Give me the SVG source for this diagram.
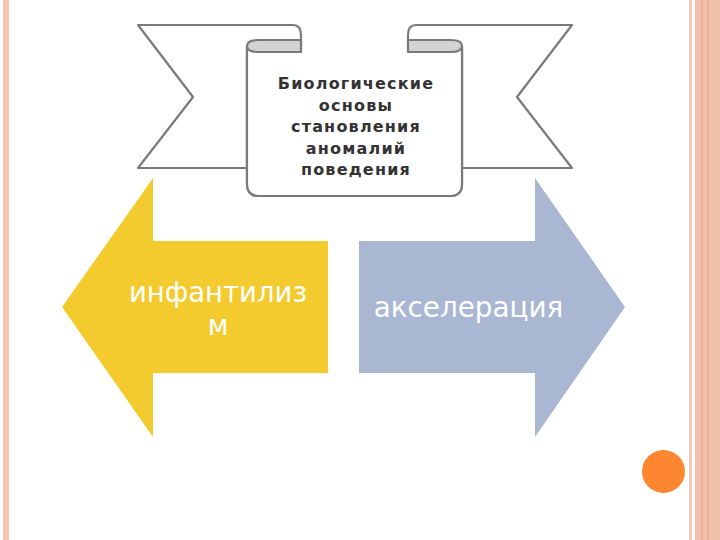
<svg xmlns="http://www.w3.org/2000/svg" width="720" height="540" viewBox="0 0 720 540">
<style>
.frame{fill:#F8C5B5}
.band{fill:#F0C0AA}
.bline{stroke:#E6A88E;stroke-width:1.2}
.rib{fill:#FFFFFF;stroke:#7A7A7A;stroke-width:2.2;stroke-linejoin:round}
.roll{fill:#D3D3D3;stroke:#7A7A7A;stroke-width:2.2;stroke-linejoin:round}
.btxt{font-family:"DejaVu Sans",sans-serif;font-weight:bold;font-size:16px;letter-spacing:1.2px;fill:#333333;text-anchor:middle}
.atxt{font-family:"DejaVu Sans",sans-serif;font-size:27.8px;fill:#FFFFFF;text-anchor:middle}
</style>
<rect width="720" height="540" fill="#FFFFFF"/>
<g id="decor">
<rect class="frame" x="3" y="0" width="6" height="540"/>
<rect x="689" y="0" width="3" height="540" fill="#F5C9B9"/>
<rect class="band" x="695" y="0" width="25" height="540"/>
<line class="bline" x1="702" y1="0" x2="702" y2="540"/>
<line class="bline" x1="708" y1="0" x2="708" y2="540"/>
<circle cx="663.5" cy="471.5" r="21.5" fill="#FF8631"/>
</g>
<g id="left-arrow">
<polygon points="62,307 153,178 153,241 328,241 328,373 153,373 153,437" fill="#F3CB2F"/>
<text class="atxt" style="font-size:27.5px"><tspan x="218" y="302">инфантилиз</tspan><tspan x="218" y="335">м</tspan></text>
</g>
<g id="right-arrow">
<polygon points="625,307 535,178 535,241 359,241 359,373 535,373 535,437" fill="#A9B7D3"/>
<text class="atxt" x="468.5" y="317">акселерация</text>
</g>
<g id="banner">
<path class="rib" d="M138,25 L293,25 Q301,25 301,35 L301,52 L247,52 L247,168 L138,168 L193,97 Z"/>
<path class="rib" d="M572,25 L416,25 Q408,25 408,35 L408,52 L462,52 L462,168 L572,168 L517,97 Z"/>
<path class="rib" d="M247,46 L247,184 Q247,196 259,196 L450,196 Q462,196 462,184 L462,46 L408,52 L301,52 Z"/>
<path class="rib" d="M247,46 L247,184 Q247,196 259,196 L450,196 Q462,196 462,184 L462,46" fill="none"/>
<path class="roll" d="M301,40 L258,40 Q247,40 247,46 Q247,52 258,52 L301,52 Z"/>
<path class="roll" d="M408,40 L451,40 Q462,40 462,46 Q462,52 451,52 L408,52 Z"/>
<text class="btxt"><tspan x="356" y="89">Биологические</tspan><tspan x="356" y="110.5">основы</tspan><tspan x="356" y="132">становления</tspan><tspan x="356" y="153.5">аномалий</tspan><tspan x="356" y="175">поведения</tspan></text>
</g>
<g id="connectors"></g>
</svg>
